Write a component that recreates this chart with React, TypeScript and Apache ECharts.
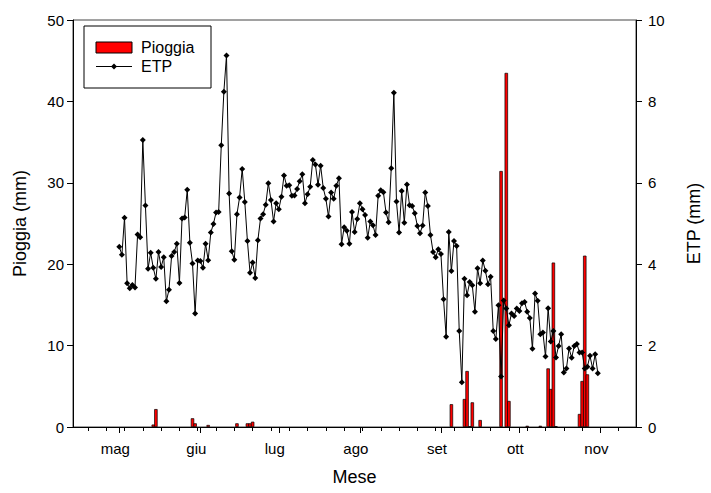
import React, { useEffect, useRef } from "react";
import * as echarts from "echarts";

// Day-of-year axis (non-leap year): May 1 = 121
const monthStarts = [121, 152, 182, 213, 244, 274, 305];
const monthLabels = ["mag", "giu", "lug", "ago", "set", "ott", "nov"];
const weekTicks = [109, 116, 123, 130, 137, 144, 151, 158, 165, 172, 179, 186, 193, 200, 207, 214, 221, 228, 235, 242, 249, 256, 263, 270, 277, 284, 291, 298, 305, 312];

const etpFirstDay = 121;
const etpValues = [
  4.43, 4.23, 5.14, 3.53, 3.41, 3.49, 3.43, 4.73, 4.66, 7.05,
  5.44, 3.89, 4.28, 3.91, 3.64, 4.30, 3.93, 4.17, 3.09, 3.37,
  4.20, 4.30, 4.50, 3.54, 5.12, 5.15, 5.83, 4.53, 4.02, 2.79,
  4.09, 4.08, 3.91, 4.50, 4.10, 4.78, 4.99, 5.27, 5.28, 6.92,
  8.24, 9.13, 5.74, 4.32, 4.11, 5.23, 5.64, 6.34, 5.53, 4.57,
  3.79, 4.04, 3.66, 4.59, 5.12, 5.23, 5.46, 5.99, 5.58, 5.05,
  5.50, 5.35, 5.66, 6.18, 5.93, 5.94, 5.68, 5.69, 5.85, 6.04,
  6.21, 5.50, 5.72, 5.90, 6.56, 6.45, 5.95, 6.42, 5.87, 5.61,
  5.17, 5.76, 5.61, 5.93, 6.11, 4.49, 4.91, 4.82, 4.50, 5.28,
  4.79, 5.11, 5.50, 5.35, 5.21, 4.65, 5.05, 4.96, 4.72, 5.68,
  5.82, 5.77, 5.27, 5.03, 6.36, 8.21, 5.54, 4.78, 5.80, 5.02,
  5.96, 5.45, 5.43, 5.25, 4.94, 4.76, 4.95, 5.76, 5.43, 4.72,
  4.30, 4.17, 4.37, 4.25, 3.14, 2.22, 4.79, 3.83, 4.57, 4.45,
  2.36, 1.10, 3.64, 3.24, 3.56, 3.48, 2.83, 3.90, 3.53, 4.09,
  3.84, 3.51, 3.69, 2.36, 2.16, 2.99, 1.24, 3.11, 2.91, 2.50,
  2.79, 2.73, 2.91, 2.85, 3.04, 3.07, 2.83, 2.68, 1.92, 3.28,
  3.10, 2.28, 2.32, 1.73, 2.92, 2.10, 2.36, 1.71, 1.99, 2.28,
  1.34, 1.44, 1.93, 1.70, 1.99, 2.04, 1.83, 1.83, 1.44, 1.48,
  1.75, 1.44, 1.79, 1.32,
];

const rainDays = [134, 135, 149, 150, 155, 166, 170, 171, 172, 248, 253, 254, 255, 256, 259, 267, 269, 270, 277, 282, 285, 286, 287, 288, 297, 298, 299, 300];
const rainValues = [0.3, 2.2, 1.07, 0.45, 0.25, 0.45, 0.45, 0.45, 0.65, 2.8, 3.44, 6.88, 0.1, 3.03, 0.86, 31.45, 43.5, 3.2, 0.15, 0.15, 7.2, 4.67, 20.2, 0.1, 1.6, 5.65, 21.05, 6.47];

const FONT = "'Liberation Sans', Arial, sans-serif";
const X_MIN = 103.3;
const X_MAX = 318.6;

export default function App() {
  const ref = useRef<HTMLDivElement>(null);

  useEffect(() => {
    if (!ref.current) return;
    const chart = echarts.init(ref.current, null, { renderer: "svg" });

    const lineData = etpValues.map((v, i) => [etpFirstDay + i, v]);
    const barData = rainDays.map((d, i) => [d, rainValues[i]]);

    const legendX = 84;
    const legendY = 26;

    chart.setOption({
      animation: false,
      backgroundColor: "#fff",
      textStyle: { fontFamily: FONT },
      grid: {
        left: 73,
        right: 67,
        top: 20,
        bottom: 66,
        show: true,
        borderColor: "#444",
        borderWidth: 1,
        backgroundColor: "transparent",
      },
      xAxis: [
        {
          type: "value",
          min: X_MIN,
          max: X_MAX,
          position: "bottom",
          axisLine: { show: true, lineStyle: { color: "#000", width: 1 } },
          axisTick: {
            show: true,
            customValues: monthStarts,
            length: 6,
            lineStyle: { color: "#000", width: 1 },
          },
          axisLabel: {
            customValues: monthStarts,
            formatter: (v: number) => {
              const idx = monthStarts.indexOf(Math.round(v));
              return idx >= 0 ? monthLabels[idx] : "";
            },
            fontSize: 15,
            color: "#000",
            fontFamily: FONT,
            margin: 14,
            padding: [0, 8, 0, 0],
          },
          splitLine: { show: false },
          name: "Mese",
          nameLocation: "middle",
          nameGap: 41,
          nameTextStyle: { fontSize: 18, color: "#000", fontFamily: FONT },
        },
        {
          type: "value",
          min: X_MIN,
          max: X_MAX,
          position: "bottom",
          axisLine: { show: false },
          axisTick: {
            show: true,
            customValues: weekTicks,
            length: 4,
            lineStyle: { color: "#000", width: 1 },
          },
          axisLabel: { show: false },
          splitLine: { show: false },
        },
      ],
      yAxis: [
        {
          type: "value",
          min: 0,
          max: 50,
          interval: 10,
          position: "left",
          axisLine: { show: true, lineStyle: { color: "#000", width: 1 } },
          axisTick: { show: true, length: 6, lineStyle: { color: "#000" } },
          axisLabel: { fontSize: 15, color: "#000", margin: 9, fontFamily: FONT },
          splitLine: { show: false },
          name: "Pioggia (mm)",
          nameLocation: "middle",
          nameRotate: 90,
          nameGap: 44,
          nameTextStyle: { fontSize: 18, color: "#000", fontFamily: FONT },
        },
        {
          type: "value",
          min: 0,
          max: 10,
          interval: 2,
          position: "right",
          axisLine: { show: true, lineStyle: { color: "#000", width: 1 } },
          axisTick: { show: true, length: 6, lineStyle: { color: "#000" } },
          axisLabel: { fontSize: 15, color: "#000", margin: 12, fontFamily: FONT },
          splitLine: { show: false },
          name: "ETP (mm)",
          nameLocation: "middle",
          nameRotate: 90,
          nameGap: 49,
          nameTextStyle: { fontSize: 18, color: "#000", fontFamily: FONT },
        },
      ],
      series: [
        {
          name: "Pioggia",
          type: "bar",
          xAxisIndex: 0,
          yAxisIndex: 0,
          data: barData,
          barWidth: 3.4,
          itemStyle: { color: "#ff0000", borderColor: "#000", borderWidth: 0.7 },
          z: 2,
        },
        {
          name: "ETP",
          type: "line",
          xAxisIndex: 0,
          yAxisIndex: 1,
          data: lineData,
          symbol: "diamond",
          symbolSize: 6,
          showSymbol: true,
          lineStyle: { color: "#000", width: 1 },
          itemStyle: { color: "#000" },
          z: 3,
        },
      ],
      graphic: [
        {
          type: "rect",
          shape: { x: legendX, y: legendY, width: 127, height: 62 },
          style: { fill: "#fff", stroke: "#000", lineWidth: 1 },
          z: 10,
        },
        {
          type: "rect",
          shape: { x: legendX + 12, y: legendY + 16, width: 36, height: 11 },
          style: { fill: "#ff0000", stroke: "#000", lineWidth: 1 },
          z: 11,
        },
        {
          type: "text",
          x: legendX + 57,
          y: legendY + 21.5,
          style: {
            text: "Pioggia",
            fontSize: 16,
            fontFamily: FONT,
            fill: "#000",
            verticalAlign: "middle",
          },
          z: 11,
        },
        {
          type: "line",
          shape: { x1: legendX + 12, y1: legendY + 40.5, x2: legendX + 48, y2: legendY + 40.5 },
          style: { stroke: "#000", lineWidth: 1 },
          z: 11,
        },
        {
          type: "polygon",
          shape: {
            points: [
              [legendX + 30, legendY + 37.5],
              [legendX + 33, legendY + 40.5],
              [legendX + 30, legendY + 43.5],
              [legendX + 27, legendY + 40.5],
            ],
          },
          style: { fill: "#000" },
          z: 11,
        },
        {
          type: "text",
          x: legendX + 57,
          y: legendY + 40.5,
          style: {
            text: "ETP",
            fontSize: 16,
            fontFamily: FONT,
            fill: "#000",
            verticalAlign: "middle",
          },
          z: 11,
        },
      ],
    });

    return () => chart.dispose();
  }, []);

  return (
    <div
      ref={ref}
      style={{ position: "fixed", left: 0, top: 0, width: 711, height: 493 }}
    />
  );
}
